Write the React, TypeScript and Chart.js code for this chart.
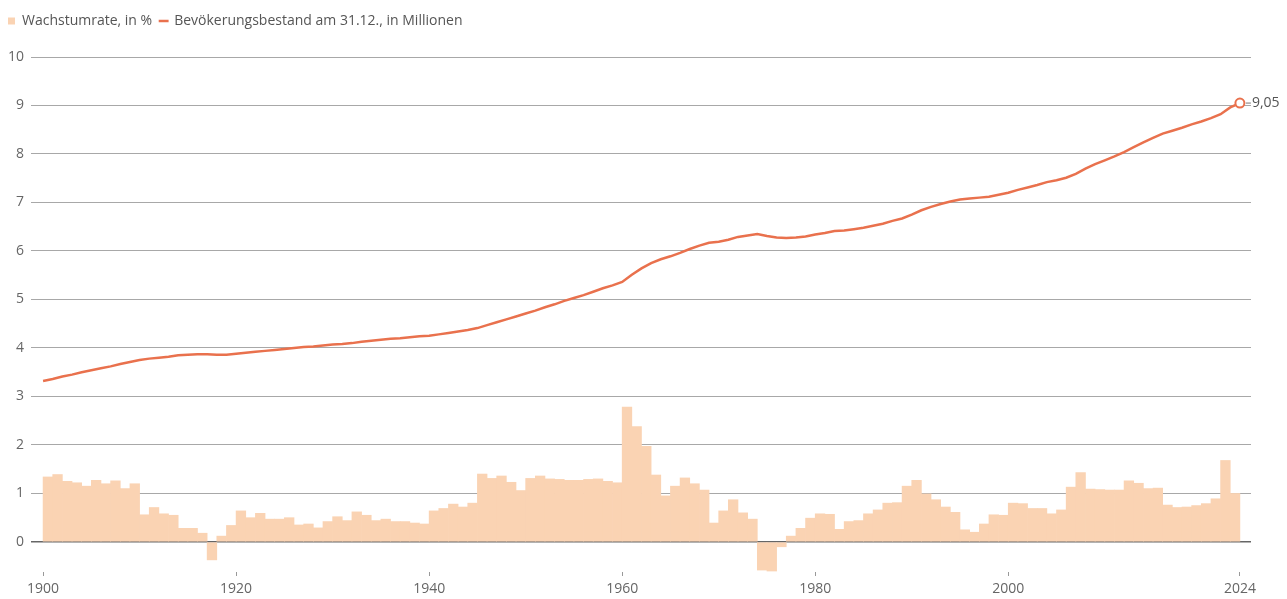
import React, { useEffect, useRef } from "react";
import { Chart, registerables } from "chart.js";

Chart.register(...registerables);

const START_YEAR = 1900;

// Bevölkerungsbestand am 31.12., in Millionen (1900..2024)
const POPULATION = [
  3.32, 3.36, 3.41, 3.45, 3.5, 3.54, 3.58, 3.62, 3.67, 3.71, 3.75,
  3.78, 3.8, 3.82, 3.85, 3.86, 3.87, 3.87, 3.86, 3.86, 3.88,
  3.9, 3.92, 3.94, 3.96, 3.98, 4.0, 4.02, 4.03, 4.05, 4.07,
  4.08, 4.1, 4.13, 4.15, 4.17, 4.19, 4.2, 4.22, 4.24, 4.25,
  4.28, 4.31, 4.34, 4.37, 4.41, 4.47, 4.53, 4.59, 4.65, 4.71,
  4.77, 4.84, 4.9, 4.97, 5.03, 5.09, 5.16, 5.23, 5.29, 5.36,
  5.51, 5.64, 5.75, 5.83, 5.89, 5.96, 6.04, 6.11, 6.17, 6.19,
  6.23, 6.29, 6.32, 6.35, 6.31, 6.28, 6.27, 6.28, 6.3, 6.34,
  6.37, 6.41, 6.42, 6.45, 6.48, 6.52, 6.56, 6.62, 6.67, 6.75,
  6.84, 6.91, 6.97, 7.02, 7.06, 7.08, 7.1, 7.12, 7.16, 7.2,
  7.26, 7.31, 7.36, 7.42, 7.46, 7.51, 7.59, 7.7, 7.79, 7.87,
  7.95, 8.04, 8.14, 8.24, 8.33, 8.42, 8.48, 8.54, 8.61, 8.67,
  8.74, 8.82, 8.96, 9.05,
];

// Wachstumsrate in % (1901..2024)
const GROWTH = [
  1.34, 1.39, 1.25, 1.22, 1.15, 1.27, 1.2, 1.26, 1.1, 1.2,
  0.56, 0.71, 0.58, 0.55, 0.28, 0.28, 0.18, -0.37, 0.12, 0.34,
  0.64, 0.5, 0.59, 0.47, 0.47, 0.5, 0.35, 0.37, 0.29, 0.42,
  0.52, 0.44, 0.62, 0.55, 0.44, 0.47, 0.42, 0.42, 0.39, 0.37,
  0.64, 0.69, 0.78, 0.72, 0.8, 1.4, 1.31, 1.36, 1.23, 1.06,
  1.31, 1.36, 1.3, 1.29, 1.27, 1.27, 1.29, 1.3, 1.25, 1.22,
  2.78, 2.38, 1.97, 1.38, 0.95, 1.15, 1.32, 1.2, 1.07, 0.39,
  0.64, 0.87, 0.6, 0.47, -0.58, -0.6, -0.1, 0.12, 0.28, 0.49,
  0.58, 0.57, 0.26, 0.42, 0.44, 0.58, 0.66, 0.8, 0.81, 1.15,
  1.27, 0.99, 0.87, 0.72, 0.61, 0.25, 0.2, 0.37, 0.56, 0.55,
  0.8, 0.79, 0.69, 0.69, 0.58, 0.66, 1.13, 1.43, 1.09, 1.08,
  1.07, 1.07, 1.26, 1.21, 1.1, 1.11, 0.76, 0.71, 0.72, 0.75,
  0.79, 0.89, 1.68, 1.0,
];

const POP_YEARS = POPULATION.map((_, i) => START_YEAR + i);
const GROWTH_YEARS = GROWTH.map((_, i) => START_YEAR + 1 + i);

const X_TICKS = [1900, 1920, 1940, 1960, 1980, 2000, 2024];
const Y_TICKS = [0, 1, 2, 3, 4, 5, 6, 7, 8, 9, 10];

const LABEL_GROWTH = "Wachstumrate, in %";
const LABEL_POP = "Bevökerungsbestand am 31.12., in Millionen";

const BAR_COLOR = "#fad3b3";
const LINE_COLOR = "#e9714d";
const TEXT_COLOR = "#555555";
const FONT = "'Open Sans', 'Noto Sans', sans-serif";

export default function App() {
  const ref = useRef<HTMLCanvasElement | null>(null);

  useEffect(() => {
    if (!ref.current) return;
    Chart.defaults.font.family = FONT;
    Chart.defaults.font.size = 14;
    Chart.defaults.color = TEXT_COLOR;

    const legendHeight = {
      id: "legendHeight",
      beforeInit(chart: any) {
        const legend = chart.legend;
        if (!legend) return;
        const orig = legend.fit;
        legend.fit = function () {
          orig.call(this);
          this.height = 51;
        };
      },
    };

    const endLabel = {
      id: "endLabel",
      afterDatasetsDraw(chart: any) {
        const meta = chart.getDatasetMeta(1);
        const n = POPULATION.length - 1;
        const pt = meta.data[n];
        if (!pt) return;
        const ctx = chart.ctx;
        ctx.save();
        ctx.strokeStyle = "#777";
        ctx.lineWidth = 1;
        ctx.beginPath();
        ctx.moveTo(pt.x + 6, pt.y);
        ctx.lineTo(pt.x + 11, pt.y);
        ctx.stroke();
        ctx.fillStyle = TEXT_COLOR;
        ctx.font = "14px " + FONT;
        ctx.textAlign = "left";
        ctx.textBaseline = "middle";
        ctx.fillText(POPULATION[n].toFixed(2).replace(".", ","), pt.x + 12, pt.y);
        ctx.restore();
      },
    };

    const chart = new Chart(ref.current, {
      type: "bar",
      data: {
        datasets: [
          {
            type: "bar",
            label: LABEL_GROWTH,
            data: GROWTH.map((v, i) => ({ x: GROWTH_YEARS[i] - 0.5, y: v })),
            backgroundColor: BAR_COLOR,
            borderWidth: 0,
            barPercentage: 1,
            categoryPercentage: 1,
          } as any,
          {
            type: "line",
            label: LABEL_POP,
            data: POPULATION.map((v, i) => ({ x: POP_YEARS[i], y: v })),
            borderColor: LINE_COLOR,
            backgroundColor: "#ffffff",
            borderWidth: 2.5,
            tension: 0,
            pointStyle: "circle",
            pointRadius: POPULATION.map((_, i) => (i === POPULATION.length - 1 ? 4.5 : 0)),
            pointBorderWidth: 2,
            pointBorderColor: LINE_COLOR,
            pointBackgroundColor: "#ffffff",
          } as any,
        ],
      },
      options: {
        animation: false,
        responsive: false,
        maintainAspectRatio: false,
        layout: { padding: { top: 6, left: 0, right: 36, bottom: 0 } },
        plugins: {
          legend: {
            display: true,
            position: "top",
            align: "start",
            labels: {
              usePointStyle: true,
              boxHeight: 7,
              boxWidth: 7,
              padding: 8,
              color: TEXT_COLOR,
              font: { size: 14 },
              generateLabels(chart: any) {
                return chart.data.datasets.map((ds: any, i: number) => ({
                  text: ds.label,
                  fillStyle: i === 0 ? BAR_COLOR : LINE_COLOR,
                  strokeStyle: i === 0 ? BAR_COLOR : LINE_COLOR,
                  lineWidth: i === 0 ? 0 : 2.5,
                  pointStyle: i === 0 ? "rect" : "line",
                  datasetIndex: i,
                  hidden: false,
                  fontColor: TEXT_COLOR,
                }));
              },
            },
          },
          tooltip: { enabled: false },
        },
        scales: {
          x: {
            type: "linear",
            offset: false,
            min: 1898.75,
            max: 2025.15,
            afterBuildTicks(scale: any) {
              scale.ticks = X_TICKS.map((v) => ({ value: v }));
            },
            afterFit(scale: any) {
              scale.height = 27;
            },
            ticks: {
              autoSkip: false,
              maxRotation: 0,
              padding: 5,
              color: "#666",
              font: { size: 14 },
              callback: (v: any) => String(v),
            },
            grid: {
              display: true,
              offset: false,
              drawOnChartArea: false,
              drawTicks: true,
              tickLength: 4,
              tickColor: "#999",
              tickWidth: 1,
            },
            border: { display: false },
          },
          y: {
            type: "linear",
            min: -0.62,
            max: 10,
            afterBuildTicks(scale: any) {
              scale.ticks = Y_TICKS.map((v) => ({ value: v }));
            },
            afterFit(scale: any) {
              scale.width = 31;
            },
            ticks: {
              padding: 7,
              color: "#666",
              font: { size: 14 },
              callback: (v: any) => String(v),
            },
            grid: {
              drawTicks: false,
              color: (c: any) => (c.tick && c.tick.value === 0 ? "#666666" : "#a8a8a8"),
              lineWidth: (c: any) => (c.tick && c.tick.value === 0 ? 1.5 : 1),
            },
            border: { display: false },
          },
        },
      },
      plugins: [legendHeight, endLabel],
    } as any);

    return () => chart.destroy();
  }, []);

  return (
    <div style={{ position: "absolute", left: 0, top: 0, width: 1287, height: 599, background: "#fff" }}>
      <canvas ref={ref} width={1287} height={599} style={{ display: "block" }} />
    </div>
  );
}
